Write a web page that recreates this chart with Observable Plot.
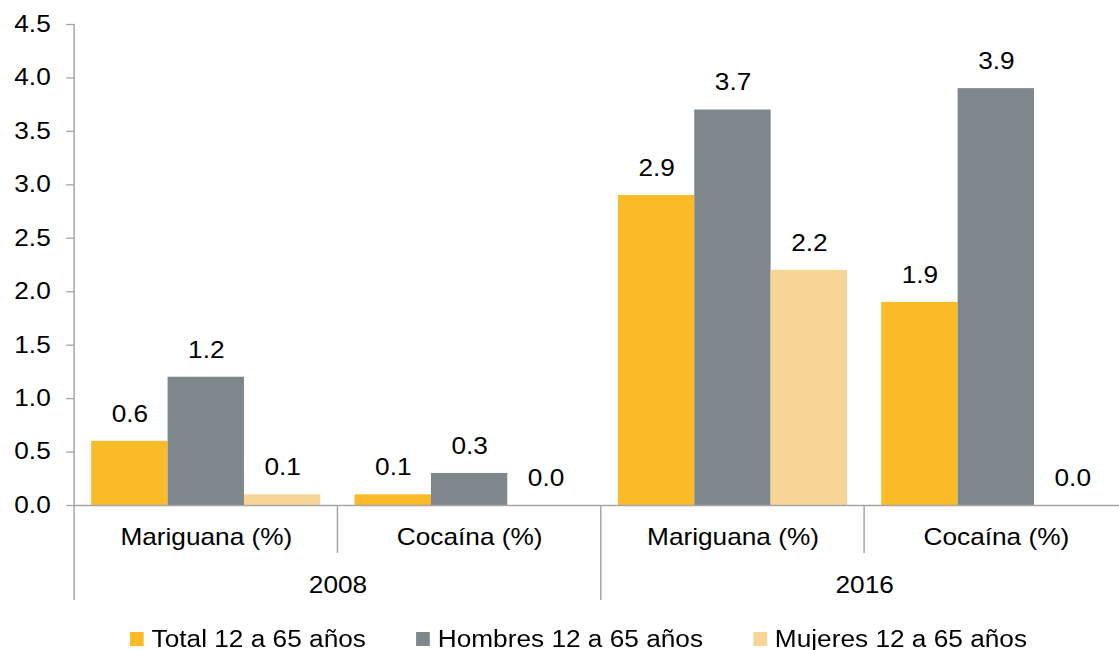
<!DOCTYPE html>
<html><head><meta charset="utf-8">
<script src="https://cdn.jsdelivr.net/npm/d3@7"></script>
<script src="https://cdn.jsdelivr.net/npm/@observablehq/plot@0.6"></script>
<style>
html,body{margin:0;padding:0;background:#fff;overflow:hidden;}
#wrap{width:982px;transform:scaleX(1.14);transform-origin:0 0;font-family:"Liberation Sans",Arial,sans-serif;}
#legend{display:flex;align-items:center;height:28px;margin-top:10px;padding-left:114px;font-size:23px;color:#000;white-space:nowrap;}
.item{display:flex;align-items:center;margin-right:44px;}
.sw{width:12px;height:14px;margin-right:7px;flex:none;}
</style></head><body>
<div id="wrap"><div id="chart"></div><div id="legend"></div></div>
<script>
const years = ["2008", "2016"];
const drugs = ["Mariguana (%)", "Cocaína (%)"];
const series = ["Total 12 a 65 años", "Hombres 12 a 65 años", "Mujeres 12 a 65 años"];
const colors = ["#FBBA27", "#7E878C", "#F9D497"];
// values per group: 2008 Mariguana, 2008 Cocaína, 2016 Mariguana, 2016 Cocaína
const total   = [0.6, 0.1, 2.9, 1.9];
const hombres = [1.2, 0.3, 3.7, 3.9];
const mujeres = [0.1, 0.0, 2.2, 0.0];
const yTicks = [0, 0.5, 1.0, 1.5, 2.0, 2.5, 3.0, 3.5, 4.0, 4.5];

const seriesValues = [total, hombres, mujeres];
const groups = years.flatMap(y => drugs.map(d => ({key: y + "|" + d, year: y, drug: d})));
const groupKeys = groups.map(g => g.key);
const data = groups.flatMap((g, i) => series.map((s, j) => ({group: g.key, year: g.year, drug: g.drug, series: s, value: seriesValues[j][i]})));
const yearRows = years.map(y => ({year: y, group: y + "|" + drugs[0]}));

const chart = Plot.plot({
  width: 982, height: 615,
  marginLeft: 63, marginRight: -8, marginTop: 24, marginBottom: 110,
  style: {fontFamily: "Liberation Sans, Arial, sans-serif", fontSize: "23px", color: "#000", background: "#fff", overflow: "visible"},
  fx: {domain: groupKeys, padding: 0, axis: null},
  x: {domain: series, paddingInner: 0, paddingOuter: 0.2, axis: null},
  y: {domain: [0, 4.5], axis: null},
  color: {domain: series, range: colors},
  marks: [
    Plot.barY(data, {fx: "group", x: "series", y: "value", fill: "series"}),
    Plot.ruleY([0], {stroke: "#a6a6a6", strokeWidth: 1.3}),
    Plot.axisY(yTicks, {label: null, tickFormat: d3.format(".1f"), tickSize: 7, tickPadding: 14, stroke: "#a6a6a6", strokeWidth: 1.3, fill: "#000", fontSize: 23}),
    Plot.text(data, {fx: "group", x: "series", y: "value", text: d => d.value.toFixed(1), dy: -27, lineAnchor: "middle", fontSize: 23, fill: "#000"}),
    Plot.text(groups, {fx: "key", text: "drug", frameAnchor: "bottom", dy: 32, lineAnchor: "middle", fontSize: 23, fill: "#000"}),
    Plot.text(yearRows, {fx: "group", text: "year", frameAnchor: "bottom-right", textAnchor: "middle", dy: 80, lineAnchor: "middle", fontSize: 23, fill: "#000"})
  ]
});
document.getElementById("chart").appendChild(chart);

// axis line and group separators, positioned via the plot's own scales
const fx = chart.scale("fx");
const y = chart.scale("y");
const svg = d3.select(chart);
const y0 = y.apply(0);
const lines = [
  {x: fx.apply(groupKeys[0]), y1: y.apply(4.5), y2: 600},
  {x: fx.apply(groupKeys[1]), y1: y0, y2: 553},
  {x: fx.apply(groupKeys[2]), y1: y0, y2: 600},
  {x: fx.apply(groupKeys[3]), y1: y0, y2: 553}
];
svg.append("g").selectAll("line").data(lines).join("line")
  .attr("x1", d => d.x).attr("x2", d => d.x)
  .attr("y1", d => d.y1).attr("y2", d => d.y2)
  .attr("stroke", "#a6a6a6").attr("stroke-width", 1.3);

const legend = d3.select("#legend");
series.forEach((s, i) => {
  const it = legend.append("div").attr("class", "item");
  it.append("div").attr("class", "sw").style("background", colors[i]);
  it.append("span").text(s);
});
</script>
</body></html>
